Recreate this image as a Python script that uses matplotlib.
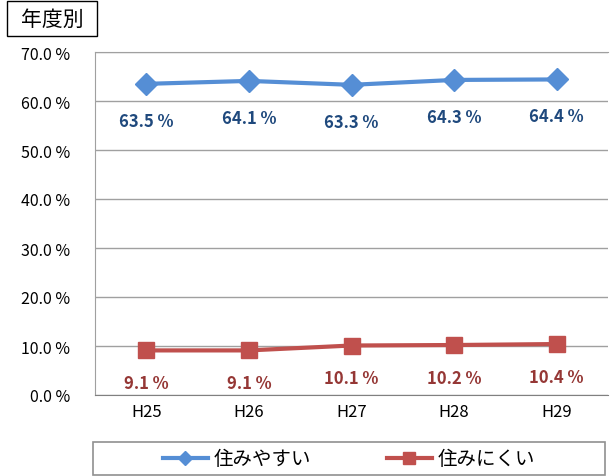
import matplotlib.pyplot as plt
from matplotlib.patches import Rectangle
from matplotlib.lines import Line2D

plt.rcParams['font.family'] = ['Noto Sans CJK JP', 'DejaVu Sans']

years = ['H25', 'H26', 'H27', 'H28', 'H29']
easy = [63.5, 64.1, 63.3, 64.3, 64.4]
hard = [9.1, 9.1, 10.1, 10.2, 10.4]
yticks = [0, 10, 20, 30, 40, 50, 60, 70]

W, H = 613, 477
fig = plt.figure(figsize=(W / 100, H / 100), dpi=100)

# plot area in pixel terms
left, right, top, bottom = 95, 608, 53, 396
ax = fig.add_axes([left / W, 1 - bottom / H, (right - left) / W, (bottom - top) / H])

x = list(range(len(years)))
ax.plot(x, easy, color='#558ED5', lw=3, marker='D', ms=11)
ax.plot(x, hard, color='#C0504D', lw=3, marker='s', ms=12)

for xi, v in zip(x, easy):
    ax.annotate(f'{v:.1f} %', (xi, v), xytext=(0, -20), textcoords='offset points',
                ha='center', va='top', color='#1F497D', fontweight='bold', fontsize=12)
for xi, v in zip(x, hard):
    ax.annotate(f'{v:.1f} %', (xi, v), xytext=(0, -17), textcoords='offset points',
                ha='center', va='top', color='#953735', fontweight='bold', fontsize=12)

ax.set_xlim(-0.5, len(years) - 0.5)
ax.set_ylim(0, 70)
ax.set_yticks(yticks)
ax.set_yticklabels([f'{t:.1f} %' for t in yticks], fontsize=11.5)
ax.set_xticks(x)
ax.set_xticklabels(years, fontsize=12)
ax.tick_params(axis='y', length=0, pad=18)
ax.tick_params(axis='x', length=0, pad=6)
ax.grid(axis='y', color='#A0A0A0', lw=1)
ax.set_axisbelow(True)
for side in ['top', 'left']:
    ax.spines[side].set_color('#A0A0A0')
ax.spines['right'].set_visible(False)
ax.spines['bottom'].set_color('#808080')

# title box
fig.patches.append(Rectangle((7 / W, 1 - 37 / H), 90 / W, 35 / H, transform=fig.transFigure,
                             fill=False, edgecolor='black', lw=1))
fig.text(52 / W, 1 - 19.5 / H, '年度別', ha='center', va='center', fontsize=15)

# legend with its own full-width frame
fig.patches.append(Rectangle((93 / W, 1 - 476 / H), 512 / W, 33 / H, transform=fig.transFigure,
                             fill=False, edgecolor='#909090', lw=1.2))
handles = [Line2D([], [], color='#558ED5', lw=3, marker='D', ms=7),
           Line2D([], [], color='#C0504D', lw=3, marker='s', ms=8)]
fig.legend(handles, ['住みやすい', '住みにくい'], loc='center',
           bbox_to_anchor=((93 + 605) / 2 / W, 1 - 460 / H), ncol=2,
           fontsize=14, frameon=False, handlelength=2.3, handletextpad=0.3,
           columnspacing=3.9)

fig.savefig('out.png', dpi=100)
